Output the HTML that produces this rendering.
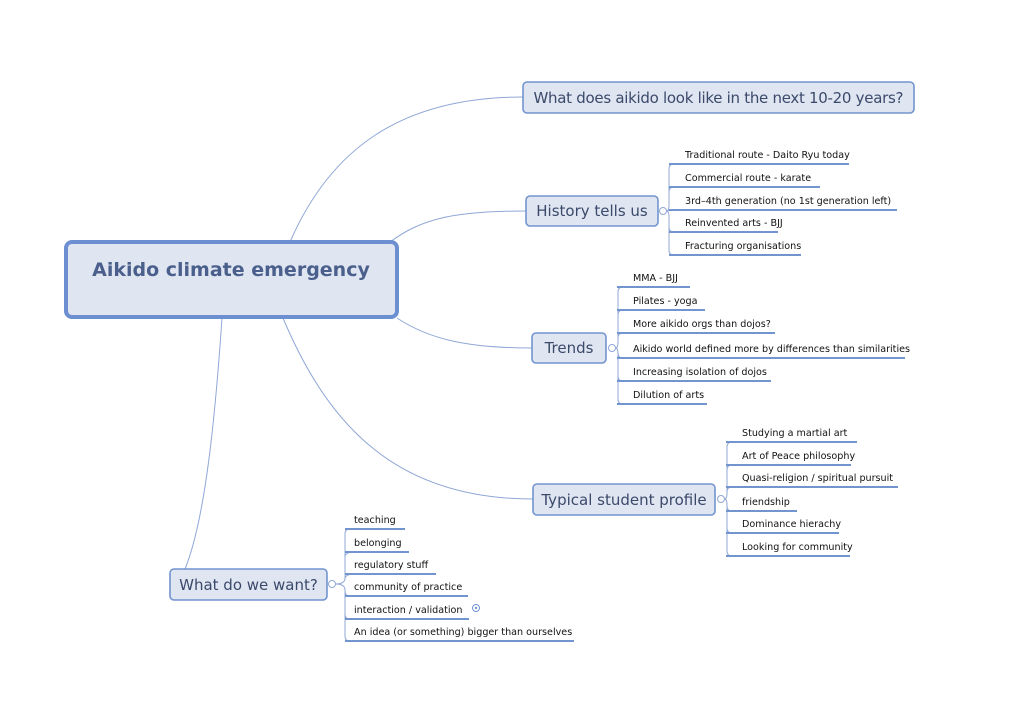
<!DOCTYPE html>
<html><head><meta charset="utf-8"><style>
html,body{margin:0;padding:0;background:#fff;}
svg{display:block;}
text{font-family:"DejaVu Sans","Liberation Sans",sans-serif;}
.s{font-size:9.6px;fill:#111;}
.t{font-size:15px;fill:#3b4a6b;}
.b{fill:#dfe5f1;stroke:#7294cf;stroke-width:1.6;}
.u{stroke:#7294cf;stroke-width:2;fill:none;}
.c{stroke:#90a8d6;stroke-width:1;fill:none;}
</style></head><body>
<svg width="1024" height="724" viewBox="0 0 1024 724" xmlns="http://www.w3.org/2000/svg">
<!-- main connectors -->
<path class="c" d="M290,242 C330,150 400,97 523,97"/>
<path class="c" d="M390,242 C420,220 450,211 526,211"/>
<path class="c" d="M397,318 C430,340 470,348 532,348"/>
<path class="c" d="M283,318 C330,430 400,499 533,499"/>
<path class="c" d="M222,318 C215,420 205,520 185,569"/>

<!-- central -->
<rect x="66" y="242" width="331" height="75" rx="6" fill="#dfe5f1" stroke="#6b8fd0" stroke-width="4"/>
<text x="231" y="276" text-anchor="middle" style="font-size:19px;font-weight:bold;fill:#4a5f8c">Aikido climate emergency</text>

<!-- topics -->
<rect class="b" x="523" y="82" width="391" height="31" rx="4"/>
<text class="t" x="718.5" y="103" text-anchor="middle" textLength="370">What does aikido look like in the next 10-20 years?</text>
<rect class="b" x="526" y="196" width="132" height="30" rx="4"/>
<text class="t" x="592" y="216" text-anchor="middle">History tells us</text>
<rect class="b" x="532" y="333" width="74" height="30" rx="4"/>
<text class="t" x="569" y="353" text-anchor="middle">Trends</text>
<rect class="b" x="533" y="484" width="182" height="31" rx="4"/>
<text class="t" x="624" y="505" text-anchor="middle">Typical student profile</text>
<rect class="b" x="170" y="569" width="157" height="31" rx="4"/>
<text class="t" x="248.5" y="590" text-anchor="middle">What do we want?</text>

<!-- History -->
<circle cx="663" cy="211" r="3.5" fill="#fff" stroke="#90a8d6"/>
<path class="c" d="M666.5,211 Q669,211 669,205 L669,169 Q669,164 674,164 M669,205 L669,192 Q669,187 674,187 M666.5,211 Q669,211 669,217 L669,227 Q669,232 674,232 M669,227 L669,250 Q669,255 674,255 M666.5,211 L674,210"/>
<path class="u" d="M669,164H849 M669,187H820 M669,210H897 M669,232H778 M669,255H801"/>
<text class="s" x="685" y="158">Traditional route - Daito Ryu today</text>
<text class="s" x="685" y="181">Commercial route - karate</text>
<text class="s" x="685" y="204">3rd–4th generation (no 1st generation left)</text>
<text class="s" x="685" y="226">Reinvented arts - BJJ</text>
<text class="s" x="685" y="249">Fracturing organisations</text>

<!-- Trends -->
<circle cx="612" cy="348" r="3.5" fill="#fff" stroke="#90a8d6"/>
<path class="c" d="M615.5,348 Q618,348 618,342 L618,292 Q618,287 623,287 M618,315 Q618,310 623,310 M618,338 Q618,333 623,333 M615.5,348 Q618,348 618,354 L618,399 Q618,404 623,404 M618,376 Q618,381 623,381 M618,353 Q618,358 623,358"/>
<path class="u" d="M617,287H690 M617,310H705 M617,333H775 M617,358H905 M617,381H771 M617,404H707"/>
<text class="s" x="633" y="281">MMA - BJJ</text>
<text class="s" x="633" y="304">Pilates - yoga</text>
<text class="s" x="633" y="327">More aikido orgs than dojos?</text>
<text class="s" x="633" y="352">Aikido world defined more by differences than similarities</text>
<text class="s" x="633" y="375">Increasing isolation of dojos</text>
<text class="s" x="633" y="398">Dilution of arts</text>

<!-- Typical -->
<circle cx="721" cy="499" r="3.5" fill="#fff" stroke="#90a8d6"/>
<path class="c" d="M724.5,499 Q727,499 727,493 L727,447 Q727,442 732,442 M727,470 Q727,465 732,465 M727,492 Q727,487 732,487 M724.5,499 Q727,499 727,505 L727,551 Q727,556 732,556 M727,528 Q727,533 732,533 M727,506 Q727,511 732,511"/>
<path class="u" d="M726,442H857 M726,465H851 M726,487H898 M726,511H797 M726,533H839 M726,556H850"/>
<text class="s" x="742" y="436">Studying a martial art</text>
<text class="s" x="742" y="459">Art of Peace philosophy</text>
<text class="s" x="742" y="481">Quasi-religion / spiritual pursuit</text>
<text class="s" x="742" y="505">friendship</text>
<text class="s" x="742" y="527">Dominance hierachy</text>
<text class="s" x="742" y="550">Looking for community</text>

<!-- Want -->
<circle cx="332" cy="584" r="3.5" fill="#fff" stroke="#90a8d6"/>
<path class="c" d="M335.5,584 Q345,584 345,578 L345,534 Q345,529 350,529 M345,557 Q345,552 355,552 M345,579 Q345,574 355,574 M335.5,584 Q345,584 345,590 L345,636 Q345,641 350,641 M345,614 Q345,619 350,619 M345,591 Q345,596 350,596"/>
<path class="u" d="M345,529H405 M345,552H409 M345,574H436 M345,596H468 M345,619H469 M345,641H574"/>
<text class="s" x="354" y="523">teaching</text>
<text class="s" x="354" y="546">belonging</text>
<text class="s" x="354" y="568">regulatory stuff</text>
<text class="s" x="354" y="590">community of practice</text>
<text class="s" x="354" y="613">interaction / validation</text>
<text class="s" x="354" y="635">An idea (or something) bigger than ourselves</text>
<circle cx="476" cy="608" r="3.5" fill="#fff" stroke="#7294cf"/>
<circle cx="476" cy="608" r="1.2" fill="#7294cf"/>
</svg>
</body></html>
